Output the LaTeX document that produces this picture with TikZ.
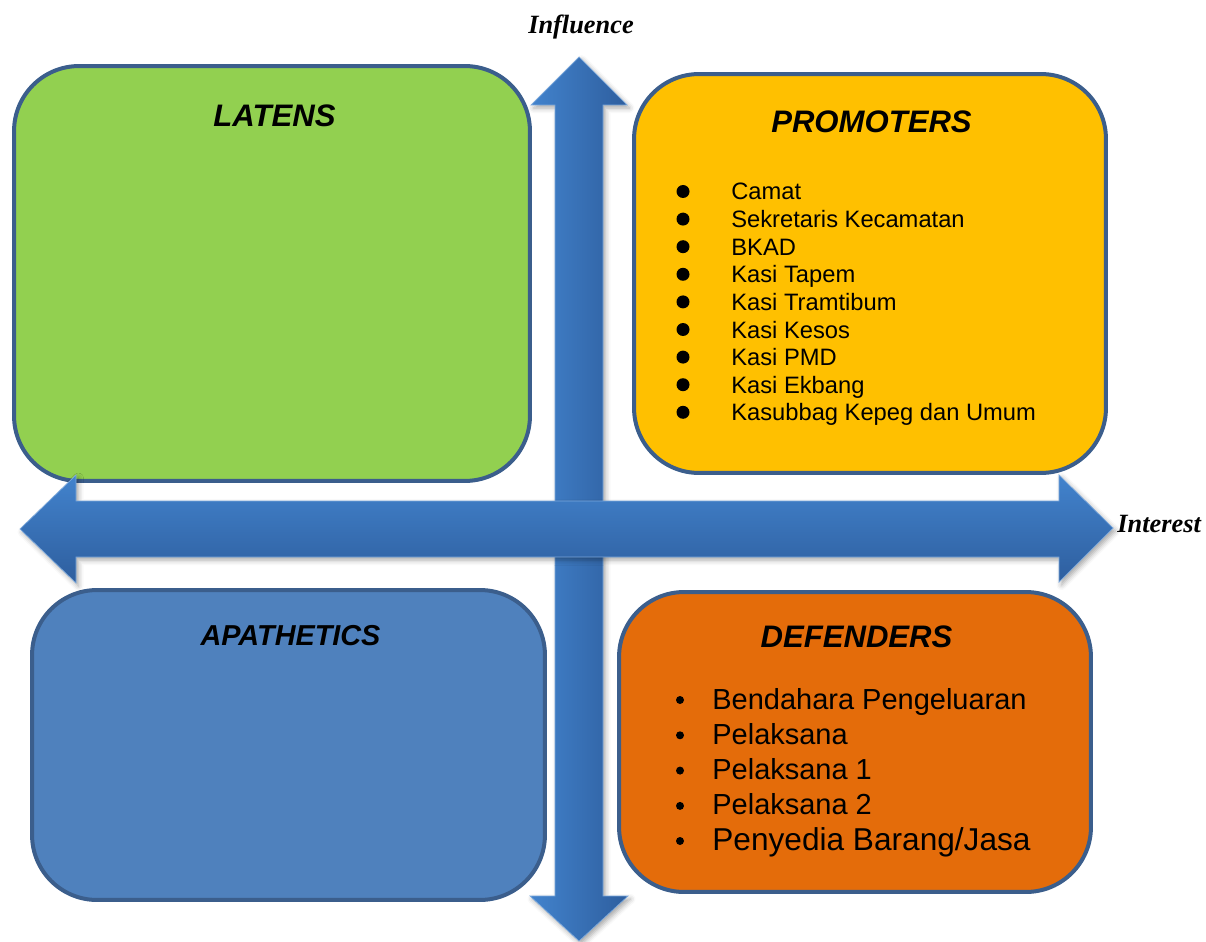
\documentclass[tikz,border=0pt]{standalone}
\usepackage{fontspec}
\setmainfont{Liberation Serif}
\setsansfont{Liberation Sans}
\usetikzlibrary{shadows.blur}
\definecolor{rimblue}{RGB}{59,94,140}
\definecolor{latgreen}{RGB}{146,208,80}
\definecolor{promyellow}{RGB}{255,192,0}
\definecolor{apablue}{RGB}{79,129,189}
\definecolor{deforange}{RGB}{228,108,10}
\definecolor{arrowlight}{RGB}{66,131,205}
\definecolor{arrowdark}{RGB}{46,94,158}
\tikzset{
  quad/.style={draw=rimblue, line width=0.08cm, rounded corners=1.3cm, inner sep=0pt},
  title/.style={font=\sffamily\bfseries\itshape\fontsize{17.7}{20}\selectfont, anchor=base, inner sep=0pt},
  axislabel/.style={font=\rmfamily\bfseries\itshape\fontsize{15}{18}\selectfont, inner sep=0pt},
  bigarrow/.style={draw=arrowlight!70!white, line width=0.4pt,
    blur shadow={shadow xshift=0.05cm, shadow yshift=-0.06cm, shadow opacity=35, shadow blur radius=0.1cm}},
  promitem/.style={font=\sffamily\fontsize{13.5}{16}\selectfont, anchor=base west, inner sep=0pt},
  defitem/.style={font=\sffamily\fontsize{16.5}{19}\selectfont, anchor=base west, inner sep=0pt}
}

\begin{document}
\begin{tikzpicture}[x=0.02cm, y=-0.02cm]
\useasboundingbox (0,0) rectangle (1206,942);
% the four quadrants
\node[quad, fill=latgreen, minimum width=10.32cm, minimum height=8.3cm] (latens) at (272,273.5) {};
\node[quad, fill=promyellow, minimum width=9.44cm, minimum height=7.98cm] (promoters) at (870,273.5) {};
\node[quad, fill=apablue, minimum width=10.26cm, minimum height=6.2cm] (apathetics) at (288.5,745) {};
\node[quad, fill=deforange, minimum width=9.44cm, minimum height=6cm] (defenders) at (855,742) {};
%
% influence axis
\path[bigarrow, left color=arrowlight, right color=arrowdark]
  (579,57) -- (627,105) -- (603,105) -- (603,896) -- (628,896) -- (579,941)
  -- (530,896) -- (555,896) -- (555,105) -- (531,105) -- cycle;
% interest axis
\path[bigarrow, top color=arrowlight, bottom color=arrowdark]
  (20,529) -- (76,475) -- (76,501) -- (1059,501) -- (1059,475) -- (1113,528)
  -- (1059,582) -- (1059,557) -- (76,557) -- (76,583) -- cycle;
%
\node[axislabel] (influence) at (581,27) {Influence};
\node[axislabel, anchor=base west] (interest) at (1117,532) {Interest};
%
\node[title] (latenstitle) at (274.5,127) {LATENS};
\node[title] (promtitle) at (871.5,133) {PROMOTERS};
\node[title, font=\sffamily\bfseries\itshape\fontsize{16.4}{19}\selectfont] (apatitle) at (290.5,645) {APATHETICS};
\node[title] (deftitle) at (856.5,647) {DEFENDERS};
%
\foreach \name [count=\i from 0] in {Camat, Sekretaris Kecamatan, BKAD, Kasi Tapem,
    Kasi Tramtibum, Kasi Kesos, Kasi PMD, Kasi Ekbang, Kasubbag Kepeg dan Umum}
{
  \node[promitem] (prom\i) at (731,{200+27.6*\i}) {\name};
  \fill (683,{191.5+27.6*\i}) circle[radius=0.13cm];
}
%
\foreach \name [count=\i from 0] in {Bendahara Pengeluaran, Pelaksana, Pelaksana 1, Pelaksana 2}
{
  \node[defitem] (def\i) at (712,{709+35.3*\i}) {\name};
  \fill (680,{700+35.3*\i}) circle[radius=0.08cm];
}
\node[defitem, font=\sffamily\fontsize{18}{21}\selectfont] (def4) at (712,850) {Penyedia Barang/Jasa};
\fill (680,841) circle[radius=0.08cm];
\end{tikzpicture}
\end{document}
